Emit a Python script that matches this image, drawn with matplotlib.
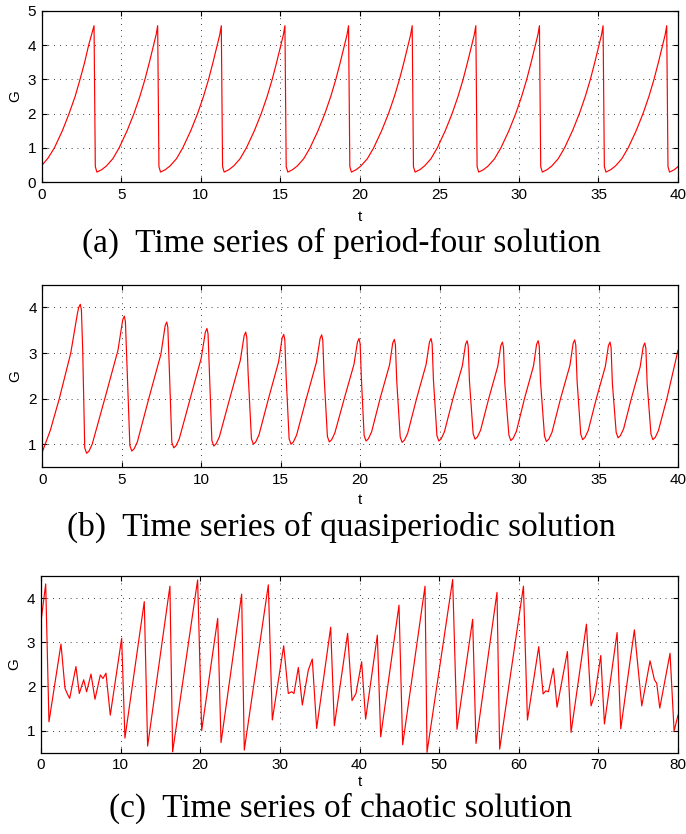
import numpy as np
import matplotlib
matplotlib.use("Agg")
import matplotlib.pyplot as plt

# (a) period-four solution: points
t_a = [0, 0.4, 0.8, 1.3, 1.72, 2.1, 2.41, 2.7, 2.95, 3.13, 3.29, 3.37,
       3.47, 3.77, 4.07, 4.47, 4.87, 5.37, 5.80, 6.17, 6.49, 6.77, 7.03, 7.19, 7.29, 7.37,
       7.47, 7.77, 8.07, 8.47, 8.87, 9.37, 9.80, 10.17, 10.49, 10.77, 11.03, 11.19, 11.29, 11.37,
       11.47, 11.77, 12.07, 12.47, 12.87, 13.37, 13.80, 14.17, 14.49, 14.77, 15.03, 15.19, 15.29, 15.37,
       15.47, 15.77, 16.07, 16.47, 16.87, 17.37, 17.80, 18.17, 18.49, 18.77, 19.03, 19.19, 19.29, 19.37,
       19.47, 19.77, 20.07, 20.47, 20.87, 21.37, 21.80, 22.17, 22.49, 22.77, 23.03, 23.19, 23.29, 23.37,
       23.47, 23.77, 24.07, 24.47, 24.87, 25.37, 25.80, 26.17, 26.49, 26.77, 27.03, 27.19, 27.29, 27.37,
       27.47, 27.77, 28.07, 28.47, 28.87, 29.37, 29.80, 30.17, 30.49, 30.77, 31.03, 31.19, 31.29, 31.37,
       31.47, 31.77, 32.07, 32.47, 32.87, 33.37, 33.80, 34.17, 34.49, 34.77, 35.03, 35.19, 35.29, 35.37,
       35.47, 35.77, 36.07, 36.47, 36.87, 37.37, 37.80, 38.17, 38.49, 38.77, 39.03, 39.19, 39.29, 39.37,
       39.47, 39.77, 40.0]
G_a = [0.48, 0.7, 1.0, 1.5, 2.0, 2.5, 3.0, 3.5, 4.0, 4.3, 4.57, 0.45,
       0.29, 0.36, 0.47, 0.68, 1.0, 1.5, 2.0, 2.5, 3.0, 3.5, 4.0, 4.3, 4.57, 0.45,
       0.29, 0.36, 0.47, 0.68, 1.0, 1.5, 2.0, 2.5, 3.0, 3.5, 4.0, 4.3, 4.57, 0.45,
       0.29, 0.36, 0.47, 0.68, 1.0, 1.5, 2.0, 2.5, 3.0, 3.5, 4.0, 4.3, 4.57, 0.45,
       0.29, 0.36, 0.47, 0.68, 1.0, 1.5, 2.0, 2.5, 3.0, 3.5, 4.0, 4.3, 4.57, 0.45,
       0.29, 0.36, 0.47, 0.68, 1.0, 1.5, 2.0, 2.5, 3.0, 3.5, 4.0, 4.3, 4.57, 0.45,
       0.29, 0.36, 0.47, 0.68, 1.0, 1.5, 2.0, 2.5, 3.0, 3.5, 4.0, 4.3, 4.57, 0.45,
       0.29, 0.36, 0.47, 0.68, 1.0, 1.5, 2.0, 2.5, 3.0, 3.5, 4.0, 4.3, 4.57, 0.45,
       0.29, 0.36, 0.47, 0.68, 1.0, 1.5, 2.0, 2.5, 3.0, 3.5, 4.0, 4.3, 4.57, 0.45,
       0.29, 0.36, 0.47, 0.68, 1.0, 1.5, 2.0, 2.5, 3.0, 3.5, 4.0, 4.3, 4.57, 0.45,
       0.29, 0.36, 0.45]

# (b) quasiperiodic solution
t_b = [0, 0.5, 1.07, 1.79, 2.2, 2.29, 2.39, 2.46, 2.54, 2.67,
       2.79, 2.94, 3.14, 3.98, 4.76, 5.06, 5.16, 5.23, 5.31, 5.51,
       5.63, 5.78, 5.98, 6.73, 7.46, 7.73, 7.83, 7.90, 7.98, 8.15,
       8.27, 8.42, 8.62, 9.32, 10.0, 10.26, 10.36, 10.43, 10.51, 10.67,
       10.79, 10.94, 11.14, 11.80, 12.46, 12.70, 12.80, 12.87, 12.95, 13.16,
       13.28, 13.43, 13.63, 14.24, 14.87, 15.09, 15.19, 15.26, 15.34, 15.53,
       15.65, 15.80, 16.00, 16.62, 17.25, 17.48, 17.58, 17.65, 17.73, 17.94,
       18.06, 18.21, 18.41, 19.0, 19.61, 19.83, 19.93, 20.00, 20.08, 20.25,
       20.37, 20.52, 20.72, 21.26, 21.85, 22.05, 22.15, 22.22, 22.30, 22.52,
       22.64, 22.79, 22.99, 23.55, 24.15, 24.36, 24.46, 24.53, 24.61, 24.83,
       24.95, 25.10, 25.30, 25.84, 26.43, 26.63, 26.73, 26.80, 26.88, 27.11,
       27.23, 27.38, 27.58, 28.09, 28.66, 28.85, 28.95, 29.02, 29.10, 29.36,
       29.48, 29.63, 29.83, 30.34, 30.91, 31.10, 31.20, 31.27, 31.35, 31.60,
       31.72, 31.87, 32.07, 32.61, 33.2, 33.40, 33.50, 33.57, 33.65, 33.88,
       34.00, 34.15, 34.35, 34.86, 35.43, 35.62, 35.72, 35.79, 35.87, 36.11,
       36.23, 36.38, 36.58, 37.07, 37.62, 37.81, 37.91, 37.98, 38.06, 38.30,
       38.42, 38.57, 38.77, 39.3, 40.0]
G_b = [0.83, 1.3, 2.0, 3.0, 3.85, 4.0, 4.07, 3.95, 3.1, 0.92,
       0.80, 0.85, 1.0, 2.06, 3.06, 3.73, 3.81, 3.69, 2.91, 0.97,
       0.85, 0.90, 1.05, 2.04, 2.97, 3.60, 3.68, 3.56, 2.78, 1.04,
       0.92, 0.97, 1.12, 2.02, 2.89, 3.46, 3.54, 3.42, 2.64, 1.08,
       0.96, 1.01, 1.16, 2.01, 2.84, 3.38, 3.46, 3.34, 2.56, 1.12,
       1.00, 1.05, 1.20, 2.01, 2.81, 3.33, 3.41, 3.29, 2.51, 1.12,
       1.00, 1.05, 1.20, 2.01, 2.80, 3.32, 3.40, 3.28, 2.50, 1.17,
       1.05, 1.10, 1.25, 2.0, 2.75, 3.24, 3.32, 3.20, 2.42, 1.19,
       1.07, 1.12, 1.27, 2.01, 2.74, 3.22, 3.30, 3.18, 2.40, 1.16,
       1.04, 1.09, 1.24, 2.0, 2.75, 3.24, 3.32, 3.20, 2.42, 1.19,
       1.07, 1.12, 1.27, 2.0, 2.72, 3.19, 3.27, 3.15, 2.37, 1.23,
       1.11, 1.16, 1.31, 2.0, 2.71, 3.16, 3.24, 3.12, 2.34, 1.20,
       1.08, 1.13, 1.28, 2.0, 2.72, 3.19, 3.27, 3.15, 2.37, 1.18,
       1.06, 1.11, 1.26, 2.0, 2.73, 3.21, 3.29, 3.17, 2.39, 1.22,
       1.10, 1.15, 1.30, 2.0, 2.71, 3.16, 3.24, 3.12, 2.34, 1.26,
       1.14, 1.19, 1.34, 2.01, 2.70, 3.14, 3.22, 3.10, 2.32, 1.22,
       1.10, 1.15, 1.30, 2.0, 3.06]

# (c) chaotic solution: turning points
t_c = [0, 0.59, 1.0, 2.51, 3.01, 3.31, 3.6, 4.39, 4.81, 5.36, 5.73, 6.28, 6.78,
       7.45, 7.78, 8.16, 8.70, 10.13, 10.54, 12.97, 13.39, 16.19, 16.53, 19.67,
       20.18, 22.19, 22.61, 25.2, 25.53, 28.55, 29.05, 30.48, 31.06, 31.48, 31.77,
       32.32, 32.82, 33.57, 34.07, 34.62, 36.38, 36.84, 38.51, 39.06, 39.56, 40.27,
       40.77, 42.24, 42.66, 44.96, 45.42, 48.23, 48.48, 51.7, 52.24, 54.21, 54.63,
       57.27, 57.6, 60.59, 61.09, 62.51, 63.06, 63.39, 63.73, 64.35, 64.81, 66.11,
       66.57, 68.5, 69.08, 69.59, 70.3, 70.76, 72.35, 72.81, 74.52, 75.45, 76.49,
       77.04, 77.33, 77.71, 79.0, 79.51, 80.0]
G_c = [3.47, 4.32, 1.2, 2.96, 1.96, 1.83, 1.73, 2.45, 1.84, 2.15, 1.88, 2.28, 1.71,
       2.26, 2.18, 2.30, 1.35, 3.09, 0.83, 3.92, 0.65, 4.27, 0.52, 4.41,
       1.0, 3.54, 0.73, 4.09, 0.56, 4.30, 1.24, 2.92, 1.84, 1.88, 1.84,
       2.43, 1.58, 2.37, 2.62, 1.05, 3.34, 1.11, 3.20, 1.68, 1.84, 2.56,
       1.26, 3.16, 0.86, 3.84, 0.68, 4.27, 0.51, 4.42, 1.03, 3.52, 0.71,
       4.13, 0.58, 4.27, 1.24, 2.90, 1.83, 1.90, 1.88, 2.41, 1.53, 2.79,
       0.96, 3.41, 1.56, 1.84, 2.70, 1.15, 3.22, 1.04, 3.28, 1.56, 2.58,
       2.15, 2.07, 1.51, 2.75, 0.99, 1.35]

captions = ["(a)  Time series of period-four solution",
            "(b)  Time series of quasiperiodic solution",
            "(c)  Time series of chaotic solution"]

plt.rcParams['font.family'] = ['Liberation Sans', 'DejaVu Sans']

fig = plt.figure(figsize=(6.86, 8.34), dpi=100)

W = 686.0
H = 834.0
# axes boxes in pixels: left, right, top, bottom
boxes = [(41.7, 678, 11, 182), (42.3, 678, 284.7, 467), (41, 678, 576, 752.7)]
xlbl_y = [217, 500, 782]
cap_y = [243, 527, 808]

series = [(t_a, G_a, (0, 40), np.arange(0, 41, 5), (0, 5), np.arange(0, 6, 1)),
          (t_b, G_b, (0, 40), np.arange(0, 41, 5), (0.5, 4.5), np.arange(1, 5, 1)),
          (t_c, G_c, (0, 80), np.arange(0, 81, 10), (0.5, 4.5), np.arange(1, 5, 1))]

for i, (t, g, xl, xt, yl, yt) in enumerate(series):
    l, r, top, bot = boxes[i]
    ax = fig.add_axes([l / W, 1 - bot / H, (r - l) / W, (bot - top) / H])
    ax.plot(t, g, color='#ff0000', lw=0.85)
    ax.set_xlim(xl)
    ax.set_ylim(yl)
    ax.set_xticks(xt)
    ax.set_yticks(yt)
    ax.grid(True, color='black', linestyle=(0, (1, 6)), lw=0.6)
    ax.tick_params(direction='in', length=3.5, width=0.8, top=True, right=True,
                   labelsize=11, pad=4)
    for s in ax.spines.values():
        s.set_linewidth(0.9)
    ax.set_ylabel('G', fontsize=11, labelpad=4)
    fig.text((l + r) / 2 / W, 1 - xlbl_y[i] / H, 't', ha='center', va='center', fontsize=11)
    fig.text(0.497, 1 - cap_y[i] / H, captions[i], ha='center', va='center',
             fontsize=24, family='Liberation Serif')

fig.savefig('out.png', dpi=100)
